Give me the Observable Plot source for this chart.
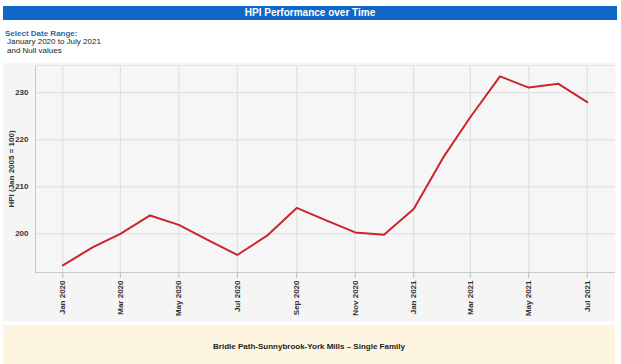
<!DOCTYPE html>
<html>
<head>
<meta charset="utf-8">
<script src="https://cdn.jsdelivr.net/npm/d3@7"></script>
<script src="https://cdn.jsdelivr.net/npm/@observablehq/plot@0.6"></script>
<style>
  html, body { margin: 0; padding: 0; background: #fff; }
  body { font-family: "Liberation Sans", Arial, sans-serif; }
  #wrap { position: relative; width: 621px; height: 364px; overflow: hidden; }
  #title { position: absolute; left: 3px; top: 6px; width: 614px; height: 14px; background: #0f67c6;
           color: #fff; font-weight: bold; font-size: 10px; line-height: 14px; text-align: center; }
  #sel { position: absolute; left: 5px; top: 29.5px; font-size: 8px; line-height: 8.6px; color: #222; }
  #sel .h { color: #2a67ad; font-weight: bold; }
  #sel .i { padding-left: 2px; }
  #chartbg { position: absolute; left: 3px; top: 63px; width: 612px; height: 258px; background: #f5f5f5; }
  #chart { position: absolute; left: 0; top: 60px; }
  #foot { position: absolute; left: 3px; top: 325px; width: 612px; height: 39px; background: #fdf5df;
          font-size: 8px; font-weight: bold; color: #222; text-align: center; line-height: 44px; }
</style>
</head>
<body>
<div id="wrap">
  <div id="title">HPI Performance over Time</div>
  <div id="sel"><div class="h">Select Date Range:</div><div class="i">January 2020 to July 2021</div><div class="i">and Null values</div></div>
  <div id="chartbg"></div>
  <div id="chart"></div>
  <div id="foot">Bridle Path-Sunnybrook-York Mills – Single Family</div>
</div>
<script>
const months = ["2020-01","2020-02","2020-03","2020-04","2020-05","2020-06","2020-07","2020-08","2020-09","2020-10","2020-11","2020-12",
                "2021-01","2021-02","2021-03","2021-04","2021-05","2021-06","2021-07"];
const hpi = [193.3,197.1,200.0,203.9,201.9,198.6,195.5,199.6,205.5,202.9,200.3,199.8,
             205.3,216.3,224.8,233.5,231.1,231.9,228.0];
const xTicks = ["2020-01","2020-03","2020-05","2020-07","2020-09","2020-11","2021-01","2021-03","2021-05","2021-07"];
const yTicks = [200, 210, 220, 230];
const yLabel = "HPI (Jan 2005 = 100)";

const parse = d3.utcParse("%Y-%m");
const data = months.map((m, i) => ({date: parse(m), value: hpi[i]}));
const tickDates = xTicks.map(parse);
const x0 = new Date(Date.UTC(2019, 11, 3, 12));
const x1 = new Date(Date.UTC(2021, 6, 30, 12));
const y0 = 191.77, y1 = 235.8;

const chart = Plot.plot({
  width: 621,
  height: 262,
  marginLeft: 35,
  marginRight: 6,
  marginTop: 5,
  marginBottom: 50,
  style: {fontFamily: '"Liberation Sans", Arial, sans-serif', fontSize: "8px", fontWeight: "bold", color: "#333", background: "transparent"},
  x: {type: "utc", domain: [x0, x1]},
  y: {domain: [y0, y1]},
  marks: [
    Plot.frame({fill: "#f6f6f6", stroke: "none"}),
    Plot.gridX(tickDates, {stroke: "#dcdcdc", strokeOpacity: 1}),
    Plot.gridY(yTicks, {stroke: "#dcdcdc", strokeOpacity: 1}),
    Plot.ruleX([x0], {stroke: "#c8c8c8"}),
    Plot.ruleY([y0], {stroke: "#c8c8c8"}),
    Plot.ruleY([y1], {stroke: "#e2e2e2"}),
    Plot.axisX(tickDates, {tickRotate: -90, tickFormat: d3.utcFormat("%b %Y"), tickSize: 6, tickPadding: 2, stroke: "#bbb", label: null}),
    Plot.axisY(yTicks, {tickSize: 0, tickPadding: 7, label: yLabel, labelAnchor: "center", labelArrow: "none", labelOffset: 27}),
    Plot.line(data, {x: "date", y: "value", stroke: "#c9252c", strokeWidth: 2})
  ]
});
document.getElementById("chart").appendChild(chart);
</script>
</body>
</html>
